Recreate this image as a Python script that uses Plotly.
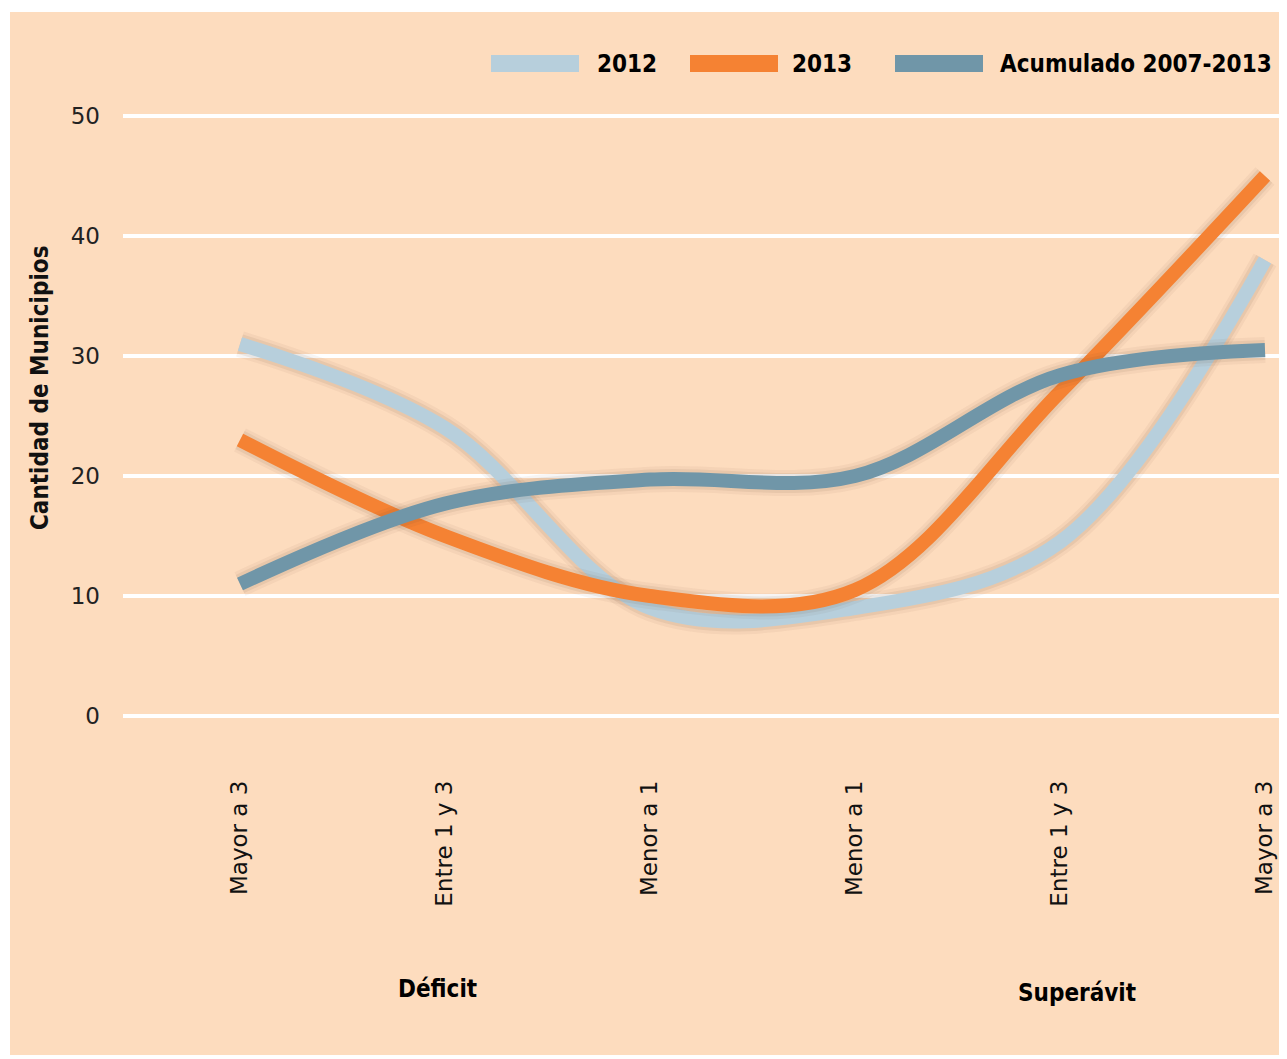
import plotly.graph_objects as go

# ---- data ----
categories = ["Mayor a 3", "Entre 1 y 3", "Menor a 1", "Menor a 1", "Entre 1 y 3", "Mayor a 3"]
series_names = ["2012", "2013", "Acumulado 2007-2013"]
values_2012 = [31, 24, 9, 9, 14.5, 38]
values_2013 = [23, 15, 10, 10.5, 27, 45]
values_acum = [11, 17.7, 19.7, 20, 28.4, 30.5]
y_ticks = [0, 10, 20, 30, 40, 50]
group_labels = ["Déficit", "Superávit"]

colors = ["#B7CFDC", "#F58233", "#7096A8"]
bg = "#FDDCBE"
OFF = 8  # page body margin
W, H = 1279, 1051
ML, MR, MT, MB = 115, 0, 105, 340
PW, PH = W - ML - MR, H - MT - MB

def px_x(px):
    # px given in screenshot coordinates
    return (px - OFF - ML) / PW

def px_y(py):
    return (H - MB - (py - OFF)) / PH

xs = list(range(len(categories)))
fig = go.Figure()
for name, vals, col in zip(series_names, [values_2012, values_2013, values_acum], colors):
    # soft shadow halo
    for w, a in [(26, 0.05), (20, 0.08)]:
        fig.add_trace(go.Scatter(
            x=xs, y=vals, mode="lines", hoverinfo="skip",
            line=dict(color=f"rgba(90,60,40,{a})", width=w, shape="spline", smoothing=1.0),
            showlegend=False,
        ))
    fig.add_trace(go.Scatter(
        x=xs, y=vals, mode="lines", name=name,
        line=dict(color=col, width=14, shape="spline", smoothing=1.0),
        showlegend=False,
    ))

# x range: category 0 at screen px 240, category 5 at screen px 1265
step = (1265 - 240) / 5
x0 = -(240 - OFF - ML) / step
x1 = 5 + (W - MR - (1265 - OFF)) / step

shapes = [
    dict(type="rect", xref="paper", yref="paper",
         x0=px_x(10), x1=px_x(1300), y0=px_y(1055), y1=px_y(12),
         fillcolor=bg, line=dict(width=0), layer="below"),
]
annotations = []
bold_font = "DejaVu Sans Condensed, Roboto Condensed, Roboto, sans-serif"
# custom legend
legend_pos = [(491, 595), (690, 790), (895, 998)]
for (rx, tx), name, col in zip(legend_pos, series_names, colors):
    shapes.append(dict(type="rect", xref="paper", yref="paper",
                       x0=px_x(rx), x1=px_x(rx + 88), y0=px_y(72), y1=px_y(55),
                       fillcolor=col, line=dict(width=0)))
    annotations.append(dict(text=f"<b>{name}</b>", xref="paper", yref="paper",
                            x=px_x(tx), y=px_y(64), xanchor="left", yanchor="middle",
                            showarrow=False,
                            font=dict(family=bold_font, size=24, color="#000")))

# y axis title
annotations.append(dict(text="<b>Cantidad de Municipios</b>", xref="paper", yref="paper",
                        x=px_x(40), y=px_y(388), textangle=-90, showarrow=False,
                        xanchor="center", yanchor="middle",
                        font=dict(family=bold_font, size=24, color="#111")))
# group labels
for lab, cx, cy in zip(group_labels, [437, 1077], [989, 993]):
    annotations.append(dict(text=f"<b>{lab}</b>", xref="paper", yref="paper",
                            x=px_x(cx), y=px_y(cy), showarrow=False,
                            xanchor="center", yanchor="middle",
                            font=dict(family=bold_font, size=24, color="#000")))

fig.update_layout(
    width=W, height=H,
    margin=dict(l=ML, r=MR, t=MT, b=MB, pad=0),
    paper_bgcolor="white", plot_bgcolor="rgba(0,0,0,0)",
    shapes=shapes, annotations=annotations,
    showlegend=False,
    xaxis=dict(range=[x0, x1], tickmode="array", tickvals=xs, ticktext=categories,
               tickangle=-90, showgrid=False, zeroline=False, showline=False,
               ticks="", ticklabelstandoff=56,
               tickfont=dict(family="DejaVu Sans", size=23, color="#111")),
    yaxis=dict(range=[-0.25, 50.25], tickmode="array", tickvals=y_ticks,
               showgrid=True, gridcolor="white", gridwidth=4,
               zeroline=False, showline=False, ticks="", ticklabelstandoff=22,
               tickfont=dict(family="DejaVu Sans", size=23, color="#222")),
)

fig.write_html("out.html")
